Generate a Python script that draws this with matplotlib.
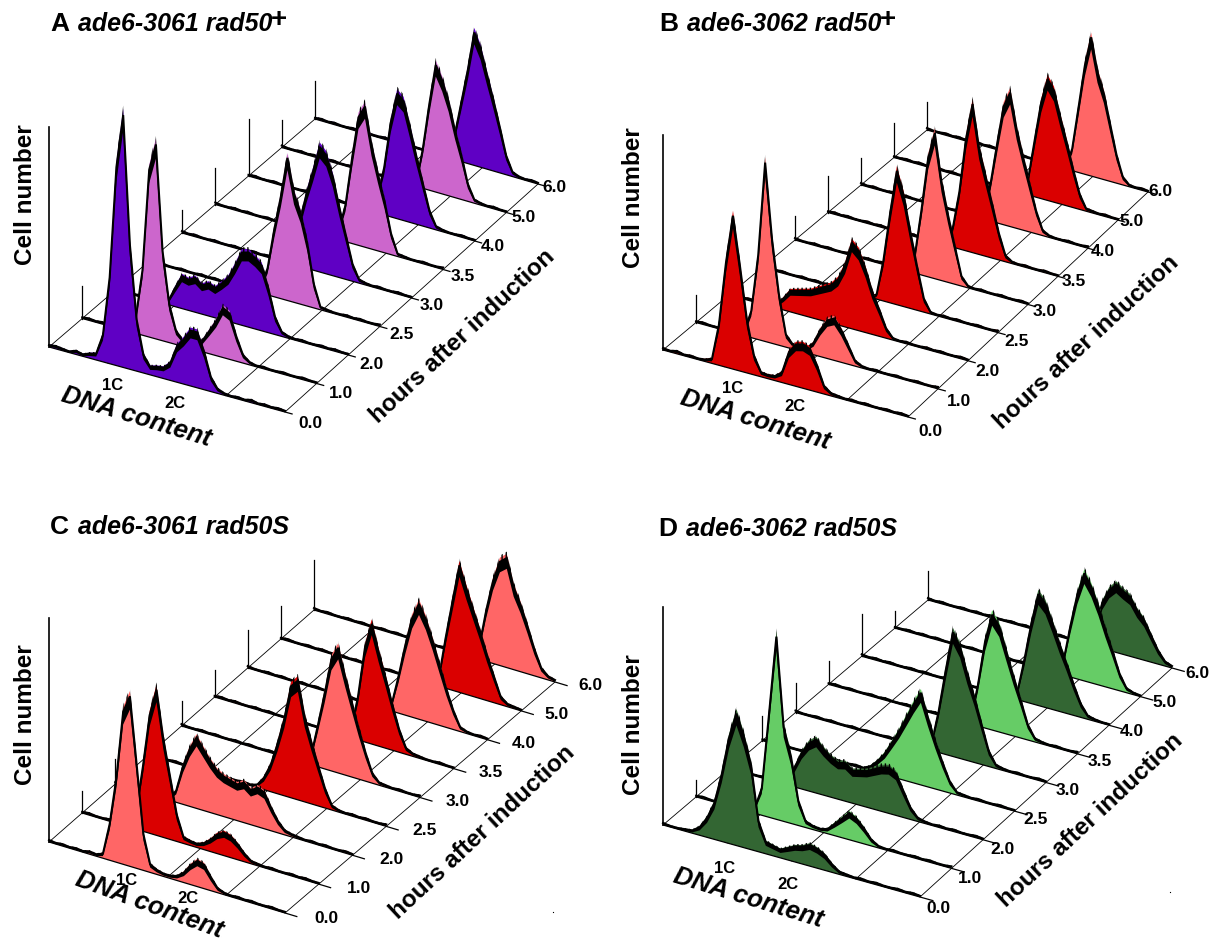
import numpy as np
import matplotlib
matplotlib.use('Agg')
import matplotlib.pyplot as plt
from matplotlib.transforms import Affine2D

plt.rcParams['font.family'] = ['Liberation Sans', 'DejaVu Sans']
plt.rcParams['hatch.linewidth'] = 1.0

hours = ['0.0', '1.0', '2.0', '2.5', '3.0', '3.5', '4.0', '5.0', '6.0']

# cell counts per DNA bin, one list per time point
a0 = [3,4,3,2,5,3,6,8,30,92,207,262,131,56,21,10,12,13,20,40,49,60,60,42,17,6,3,2,3,2,4,2,3,2,3,2]
a1 = [2,3,2,3,2,3,2,4,18,70,175,203,95,42,16,8,7,8,14,26,38,54,50,28,10,4,2,3,2,2,3,2,2,3,2,2]
a2 = [2,3,2,2,3,2,3,3,6,22,36,34,38,32,36,33,40,48,62,78,80,76,70,48,20,6,3,2,3,2,2,3,2,3,2,2]
a3 = [3,2,3,2,2,3,2,2,3,2,3,2,2,3,2,3,4,8,30,72,108,150,115,97,68,27,4,3,2,2,3,2,3,2,2,3]
a4 = [3,2,3,2,2,3,2,2,3,2,2,3,2,3,2,2,3,4,50,80,105,132,125,105,75,48,20,5,3,2,3,2,2,3,2,2]
a5 = [3,2,2,3,2,3,2,2,3,2,3,2,2,3,2,2,3,2,3,12,40,90,135,148,110,82,56,24,4,3,2,2,3,2,2,3]
a6 = [2,3,2,2,3,2,3,2,2,3,2,3,2,2,3,2,3,2,2,3,20,52,100,132,126,100,72,46,20,5,3,2,2,3,2,2]
a7 = [3,2,2,3,2,3,2,2,3,2,2,3,2,3,2,2,3,2,3,2,3,6,44,92,134,120,100,72,48,20,5,3,2,3,2,2]
a8 = [2,3,2,3,2,2,3,2,3,2,2,3,2,3,2,3,2,2,3,2,3,4,30,65,100,140,125,100,76,50,22,6,3,2,3,2]

b0 = [3,2,4,2,3,2,3,6,45,111,161,111,57,22,6,5,6,12,36,46,48,45,30,10,4,3,2,3,2,3,2,2,3,2,3,2]
b1 = [2,3,2,2,3,2,3,5,30,90,187,110,55,15,6,5,6,14,30,42,46,36,22,7,3,2,3,2,2,3,2,2,3,2,2,3]
b2 = [3,2,2,3,2,3,2,5,14,24,26,28,30,34,38,42,50,66,92,85,68,46,30,12,3,2,3,2,2,3,2,3,2,2,3,2]
b3 = [2,3,2,3,2,2,3,2,3,2,3,2,2,3,2,3,2,6,44,95,141,118,82,48,16,3,2,3,2,3,2,2,3,2,2,3]
b4 = [3,2,2,3,2,3,2,2,3,2,2,3,2,3,2,3,2,3,20,70,125,153,105,72,42,12,3,2,3,2,2,3,2,2,3,2]
b5 = [2,3,2,3,2,2,3,2,3,2,3,2,2,3,2,2,3,2,3,22,62,118,156,112,85,58,30,8,3,2,3,2,2,3,2,2]
b6 = [3,2,3,2,2,3,2,3,2,2,3,2,3,2,2,3,2,3,2,8,42,85,125,141,105,78,52,26,7,3,2,2,3,2,2,3]
b7 = [2,2,3,2,3,2,2,3,2,3,2,2,3,2,3,2,2,3,2,3,3,20,62,102,128,118,92,68,42,18,4,3,2,3,2,2]
b8 = [3,2,2,3,2,3,2,2,3,2,3,2,2,3,2,3,2,2,3,2,3,3,3,25,70,115,146,112,92,62,32,10,3,2,3,2]

c0 = [3,2,3,2,3,2,4,3,6,40,90,160,178,110,40,10,6,4,4,6,12,22,29,27,16,6,3,2,3,2,3,2,2,3,2,2]
c1 = [2,3,2,2,3,2,3,2,20,70,125,153,105,68,30,8,6,5,8,14,22,26,24,18,10,4,3,2,3,2,2,3,2,3,2,2]
c2 = [3,2,3,2,2,3,2,3,3,14,42,62,76,66,56,48,44,42,40,44,38,43,40,26,14,6,4,3,2,3,2,3,2,2,3,2]
c3 = [2,3,2,2,3,2,3,2,2,3,2,3,2,2,3,2,4,14,30,54,82,118,126,90,66,44,22,6,3,2,3,2,3,2,2,3]
c4 = [3,2,2,3,2,3,2,2,3,2,3,2,2,3,2,3,2,3,2,10,45,80,118,132,105,80,55,32,12,4,3,2,3,2,2,3]
c5 = [2,3,2,3,2,2,3,2,3,2,2,3,2,3,2,2,3,2,3,2,10,48,100,127,100,76,50,26,8,4,3,2,2,3,2,2]
c6 = [3,2,2,3,2,3,2,2,3,2,3,2,2,3,2,3,2,2,3,2,3,8,40,75,105,122,108,88,65,42,22,6,3,2,3,2]
c7 = [2,3,2,2,3,2,3,2,2,3,2,3,2,2,3,2,3,2,3,2,2,3,2,10,55,95,134,112,92,72,50,30,10,4,3,2]
c8 = [3,2,3,2,2,3,2,3,2,2,3,2,3,2,2,3,2,3,2,3,2,2,3,3,15,55,88,110,116,88,72,52,30,12,5,3]

d0 = [3,2,2,3,4,10,22,40,72,112,139,118,90,34,14,12,10,14,18,20,24,22,18,10,4,3,2,3,2,3,2,2,3,2,3,2]
d1 = [2,3,2,2,3,2,3,2,6,30,110,191,100,72,28,8,5,4,6,14,22,30,26,18,8,3,2,3,2,2,3,2,3,2,2,3]
d2 = [3,2,3,2,2,3,2,3,4,22,40,52,58,50,44,40,42,36,38,40,44,48,50,46,30,14,5,3,2,3,2,3,2,2,3,2]
d3 = [2,3,2,3,2,2,3,2,3,2,3,2,2,3,2,6,14,24,38,52,68,84,98,74,52,32,14,4,3,2,3,2,2,3,2,2]
d4 = [3,2,2,3,2,3,2,2,3,2,3,2,2,3,2,3,2,2,3,8,45,90,131,118,92,70,44,18,5,3,2,3,2,2,3,2]
d5 = [2,3,2,3,2,2,3,2,3,2,2,3,2,3,2,3,2,2,3,2,6,45,92,122,112,88,64,42,18,5,3,2,3,2,2,3]
d6 = [3,2,3,2,3,2,2,3,2,3,2,2,3,2,3,2,2,3,2,3,2,3,8,45,85,118,110,92,72,54,34,16,5,3,2,2]
d7 = [2,2,3,2,3,2,3,2,2,3,2,3,2,2,3,2,3,2,3,2,2,3,2,3,15,55,90,114,102,84,62,42,20,6,3,2]
d8 = [3,2,3,2,2,3,2,3,2,3,2,2,3,2,3,2,2,3,2,3,2,3,2,3,20,50,65,73,68,64,52,44,30,16,6,3]

spikes_a = [0, 33, 28, 26, 23, 37, 57, 27, 38]
spikes_b = [0, 28, 25, 25, 24, 37, 27, 34, 28]
spikes_c = [0, 22, 25, 25, 25, 27, 38, 33, 50]
spikes_d = [0, 17, 22, 25, 30, 23, 42, 17, 29]

violet, orchid = '#5F00C4', '#CC66CC'
red, salmon = '#DA0000', '#FF6666'
dark, light = '#336633', '#66CC66'

# floor corners: front left, front right, back left, back right
panels = [
    dict(letter='A', name='ade6-3061 rad50', sup='+', rows=[a0, a1, a2, a3, a4, a5, a6, a7, a8], spikes=spikes_a,
         colors=[violet, orchid, violet, orchid, violet, orchid, violet, orchid, violet],
         corners=[(49, 347), (285, 412), (315, 119), (538, 184)], ytop=127, tail=0.03,
         lab=[(25, 11), (16, 4)], rot=-17,
         title=(50, 24), cell=(26, 195), dna=(136, 417), c1=(113, 385), c2=(175, 403), hrs=(462, 336)),
    dict(letter='B', name='ade6-3062 rad50', sup='+', rows=[b0, b1, b2, b3, b4, b5, b6, b7, b8], spikes=spikes_b,
         colors=[red, salmon, red, red, salmon, red, salmon, red, salmon],
         corners=[(663, 350), (908, 417), (927, 130), (1148, 192)], ytop=135, tail=0.03,
         lab=[(22, 14), (12, -1)], rot=-17,
         title=(659, 24), cell=(633, 198), dna=(755, 420), c1=(733, 388), c2=(795, 406), hrs=(1086, 342)),
    dict(letter='C', name='ade6-3061 rad50S', sup='', rows=[c0, c1, c2, c3, c4, c5, c6, c7, c8], spikes=spikes_c,
         colors=[salmon, red, salmon, red, salmon, red, salmon, red, salmon],
         corners=[(49, 842), (285, 913), (314, 610), (555, 682)], ytop=618, tail=0.05,
         lab=[(41, 5), (35, 3)], rot=-20,
         title=(50, 527), cell=(26, 715), dna=(149, 905), c1=(127, 880), c2=(188, 898), hrs=(482, 832)),
    dict(letter='D', name='ade6-3062 rad50S', sup='', rows=[d0, d1, d2, d3, d4, d5, d6, d7, d8], spikes=spikes_d,
         colors=[dark, light, dark, light, dark, light, dark, light, dark],
         corners=[(663, 825), (920, 897), (928, 600), (1172, 668)], ytop=607, tail=0.05,
         lab=[(18, 11), (25, 5)], rot=-17,
         title=(658, 529), cell=(633, 725), dna=(748, 898), c1=(725, 868), c2=(788, 884), hrs=(1090, 820)),
]

fig = plt.figure(figsize=[12.18, 9.46], dpi=100)
ax = fig.add_axes([0, 0, 1, 1])
ax.set_xlim(0, 1218)
ax.set_ylim(946, 0)
ax.axis('off')
ax.set_autoscale_on(False)

for p in panels:
    fl, fr, bl, br = [np.array(c, dtype=float) for c in p['corners']]
    n = len(p['rows'])
    lab0, lab1 = [np.array(c, dtype=float) for c in p['lab']]

    ax.plot([fl[0], fl[0]], [fl[1], p['ytop']], color='k', lw=1.2, zorder=50)

    # depth grid
    for f in [0., 0.25, 0.5, 0.75, 1.]:
        a = fl + (fr - fl)*f
        b = bl + (br - bl)*f
        ax.plot([a[0], b[0]], [a[1], b[1]], color='k', lw=0.6, zorder=1)

    for i in range(n - 1, -1, -1):
        org = fl + (bl - fl)*i/(n - 1)
        end = fr + (br - fr)*i/(n - 1)
        tr = Affine2D(np.array([[end[0]-org[0], 0, org[0]],
                                [end[1]-org[1], -1, org[1]],
                                [0, 0, 1]])) + ax.transData
        vals = np.array(p['rows'][i], dtype=float)
        x = np.linspace(0, 1, len(vals))
        z = 10 + (n - i)*3
        # counting noise makes the outline a ragged black band, widest at the tops
        noise = np.sqrt(vals)
        mid = vals - 0.6*noise
        ax.fill_between(x, 0, vals - 0.2*noise, facecolor=p['colors'][i], edgecolor='none', transform=tr, zorder=z)
        ax.fill_between(x, mid - 1.0*noise, mid, facecolor='k', edgecolor='none', transform=tr, zorder=z+1)
        ax.fill_between(x, mid, vals, facecolor='none', edgecolor='k', hatch='||||',
                        linewidth=0, transform=tr, zorder=z+1)
        ax.plot([0, 1 + p['tail']], [0, 0], color='k', lw=0.9, transform=tr, zorder=z+1)
        ax.plot(x, mid, color='k', lw=1.5, solid_joinstyle='miter', transform=tr, zorder=z+1)
        if p['spikes'][i] > 0:
            ax.plot([0, 0], [0, p['spikes'][i]], color='k', lw=0.9, transform=tr, zorder=z-1)
        off = lab0 + (lab1 - lab0)*i/(n - 1)
        ax.text(end[0]+off[0], end[1]+off[1], hours[i], fontsize=12.5, fontweight='bold', ha='center', va='center')

    ax.text(p['title'][0], p['title'][1], p['letter'], fontsize=19, fontweight='bold', ha='left', va='center')
    ax.text(p['title'][0]+28, p['title'][1], p['name'], fontsize=18, fontweight='bold', style='italic', ha='left', va='center')
    if p['sup']:
        ax.text(p['title'][0]+229, p['title'][1]-4, p['sup'], fontsize=20, fontweight='bold', ha='center', va='center')
    ax.text(p['cell'][0], p['cell'][1], 'Cell number', fontsize=17.5, fontweight='bold', rotation=90, ha='center', va='center')
    ax.text(p['dna'][0], p['dna'][1], 'DNA content', fontsize=18.5, fontweight='bold', style='italic', rotation=p['rot'],
            rotation_mode='anchor', ha='center', va='center')
    ax.text(p['c1'][0], p['c1'][1], '1C', fontsize=12, fontweight='bold', ha='center', va='center')
    ax.text(p['c2'][0], p['c2'][1], '2C', fontsize=12, fontweight='bold', ha='center', va='center')
    ax.text(p['hrs'][0], p['hrs'][1], 'hours after induction', fontsize=17.5, fontweight='bold', rotation=43,
            rotation_mode='anchor', ha='center', va='center')

# stray specks in the scan
ax.plot([553, 1170], [912, 892], ls='none', marker='s', ms=0.8, color='k', mew=0)

fig.savefig('out.png', dpi=100)
